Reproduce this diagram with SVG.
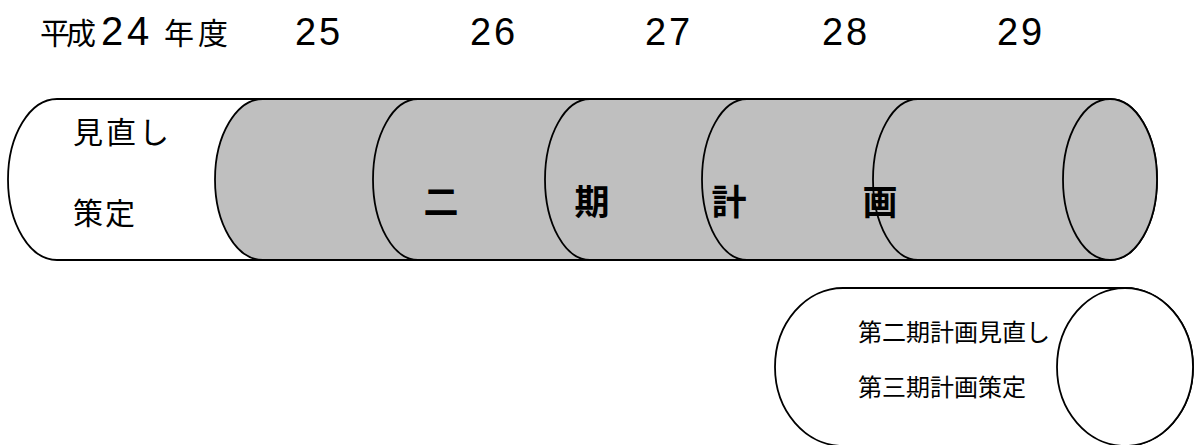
<svg xmlns="http://www.w3.org/2000/svg" width="1195" height="445" viewBox="0 0 1195 445">
  <style>
    .cyl { stroke: #000; stroke-width: 1.8; stroke-linejoin: round; }
    .white { fill: #fff; }
    .gray { fill: #bfbfbf; }
    .jp { font-family: "Noto Sans CJK JP", "Noto Sans CJK SC", sans-serif; fill: #000; }
    .num { font-family: "Liberation Sans", Arial, sans-serif; font-size: 38px; fill: #000; }
    .head { font-size: 30px; }
    .note { font-size: 30px; }
    .big { font-size: 35px; font-weight: 600; text-anchor: middle; }
    .small { font-size: 24px; }
  </style>

  <!-- fiscal-year header -->
  <g id="years">
    <text class="jp head" x="40" y="44" letter-spacing="-4">平成</text>
    <text class="num" x="101 127" y="45" style="font-size:40px">24</text>
    <text class="jp head" x="164" y="44" letter-spacing="4">年度</text>
    <text class="num" x="295 319" y="45">25</text>
    <text class="num" x="470 494" y="45">26</text>
    <text class="num" x="645 669" y="45">27</text>
    <text class="num" x="822 846" y="45">28</text>
    <text class="num" x="997 1021" y="45">29</text>
  </g>

  <!-- first-phase cylinder: review and drafting year -->
  <g id="review-24">
    <path class="cyl white" d="M57,99 A49,80.5 0 0 0 57,260 L264,260 A48,80.5 0 0 0 264,99 Z"/>
    <text class="jp note" x="73" y="143" letter-spacing="3">見直し</text>
    <text class="jp note" x="73" y="224" letter-spacing="2">策定</text>
  </g>

  <!-- second-phase plan: chained cylinder segments, later ones on top -->
  <g id="plan-25">
    <path class="cyl gray" d="M263,99 A48,80.5 0 0 0 263,260 L418,260 A45,80.5 0 0 0 418,99 Z"/>
  </g>
  <g id="plan-26">
    <path class="cyl gray" d="M418,99 A45,80.5 0 0 0 418,260 L590,260 A45,80.5 0 0 0 590,99 Z"/>
    <text class="jp big" x="441" y="215">二</text>
  </g>
  <g id="plan-27">
    <path class="cyl gray" d="M590,99 A45,80.5 0 0 0 590,260 L747,260 A45,80.5 0 0 0 747,99 Z"/>
    <text class="jp big" x="592" y="215">期</text>
  </g>
  <g id="plan-28">
    <path class="cyl gray" d="M747,99 A45,80.5 0 0 0 747,260 L918,260 A45,80.5 0 0 0 918,99 Z"/>
    <text class="jp big" x="729" y="215">計</text>
  </g>
  <g id="plan-29">
    <path class="cyl gray" d="M918,99 A45,80.5 0 0 0 918,260 L1110,260 A47,80.5 0 0 0 1110,99 Z"/>
    <ellipse class="cyl gray" cx="1110" cy="179.5" rx="47" ry="80.5"/>
    <text class="jp big" x="880" y="215">画</text>
  </g>

  <!-- next review cylinder, running past the bottom-right edge -->
  <g id="review-29">
    <path class="cyl white" d="M843,288 A68,79 0 0 0 843,446 L1125,446 A68,79 0 0 0 1125,288 Z"/>
    <ellipse class="cyl white" cx="1125" cy="367" rx="68" ry="79"/>
    <text class="jp small" x="858" y="341">第二期計画見直し</text>
    <text class="jp small" x="858" y="396">第三期計画策定</text>
  </g>

  <g id="connectors"/>
</svg>
